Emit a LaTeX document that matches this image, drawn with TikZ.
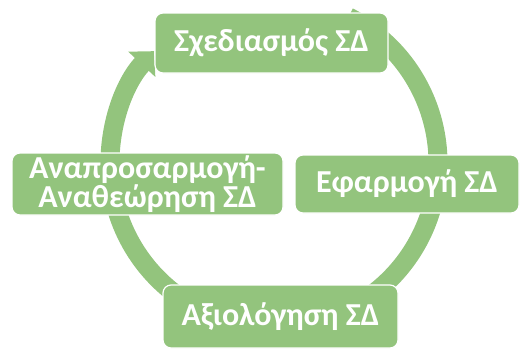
\documentclass[tikz,border=0pt]{standalone}
\usepackage{fontspec}
\setmainfont{Carlito}
\usetikzlibrary{arrows.meta}
\definecolor{gr}{RGB}{147,196,125}
\tikzset{
  stagebox/.style={fill=gr, draw=white, line width=1.2pt, rounded corners=8pt,
    inner sep=0pt, text=white, align=center,
    font=\fontsize{32}{29}\selectfont\bfseries},
  ring/.style={draw=gr, line width=19pt,
    -{Triangle[width=36pt,length=18pt]}}
}
\begin{document}
\begin{tikzpicture}[x=1pt,y=-1pt]
\useasboundingbox (0,0) rectangle (520,349);
\coordinate (c) at (274,163);
\draw[ring] (c) ++(-63:164) arc[start angle=-63, end angle=223, radius=164];
\node[stagebox, minimum width=233pt, minimum height=60pt] (plan) at (271.5,43) {Σχεδιασμός ΣΔ};
\node[stagebox, minimum width=224pt, minimum height=58pt] (impl) at (407,184) {Εφαρμογή ΣΔ};
\node[stagebox, minimum width=235pt, minimum height=63pt] (eval) at (280.5,316.5) {Αξιολόγηση ΣΔ};
\node[stagebox, minimum width=271pt, minimum height=62pt] (adapt) at (147.5,184) {Αναπροσαρμογή-\\Αναθεώρηση ΣΔ};
\end{tikzpicture}
\end{document}
